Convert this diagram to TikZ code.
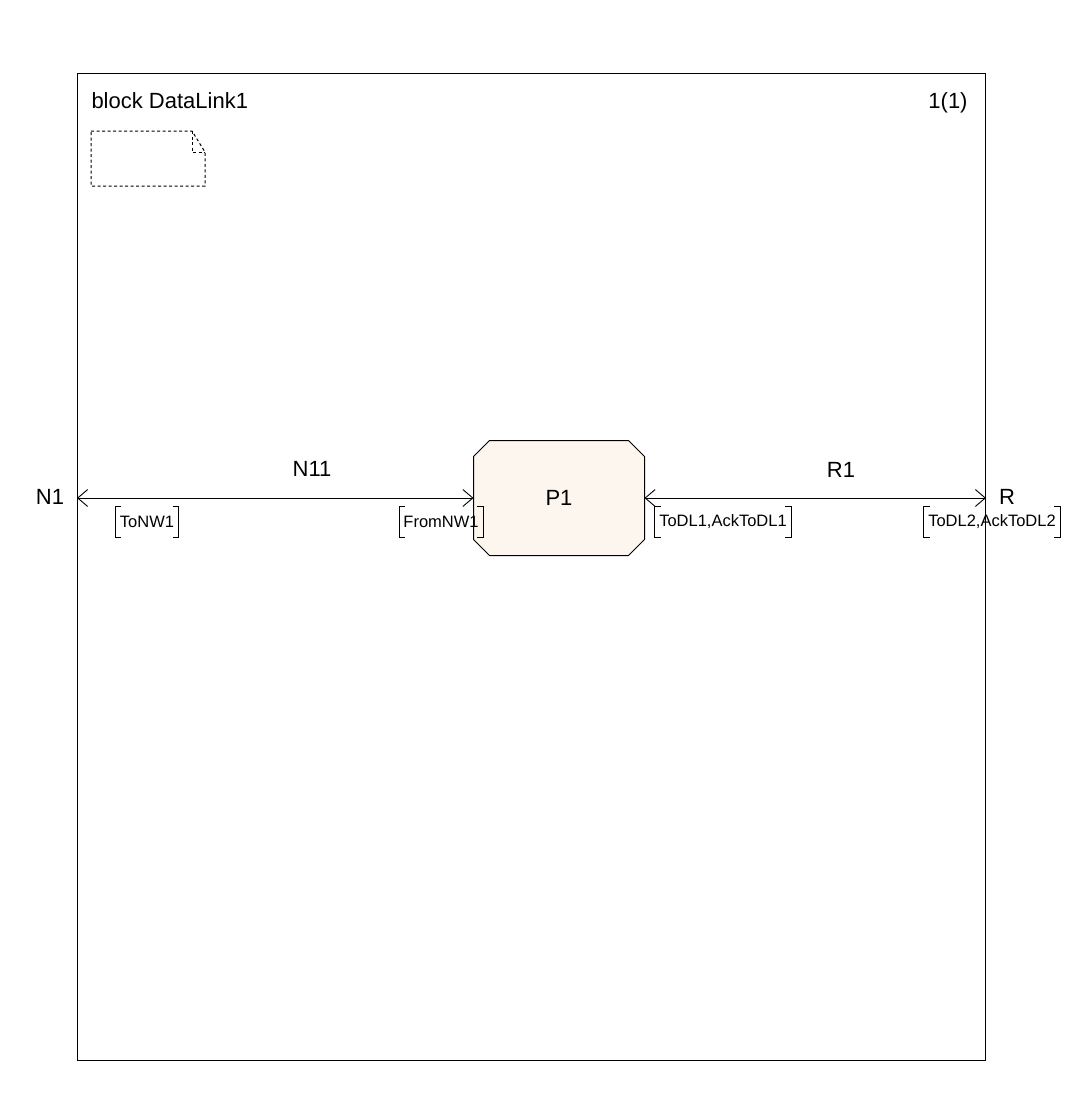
\documentclass[tikz,border=0pt]{standalone}
\usepackage{fontspec}
\setmainfont{Liberation Sans}
\usetikzlibrary{arrows.meta}
\begin{document}
\begin{tikzpicture}[x=1pt,y=-1pt,
  line width=1pt,
  big/.style={font=\fontsize{22}{24}\selectfont, inner sep=0pt},
  sig/.style={font=\fontsize{16.5}{18}\selectfont, inner xsep=4pt, inner ysep=0pt, minimum height=30pt},
  chan/.style={{Straight Barb[length=10pt,width=17pt]}-{Straight Barb[length=10pt,width=17pt]}, line width=0.9pt},
  notestyle/.style={dash pattern=on 3pt off 2.5pt, line width=1pt},
  procfill/.style={fill={rgb,255:red,253;green,246;blue,238}, draw=black}
]
\useasboundingbox (0,0) rectangle (1070,1100);
% frame
\node[draw, minimum width=908pt, minimum height=987pt, anchor=north west, inner sep=0pt] (frame) at (77,73) {};
\node[big, anchor=base west] (title) at (91,108) {block DataLink1};
\node[big, anchor=base] (page) at (948,108) {1(1)};
% note symbol
\draw[notestyle] (91,131) -- (192,131) -- (205,152) -- (205,186) -- (91,186) -- cycle;
\draw[notestyle] (192,131) -- (192,152) -- (205,152);
% process
\node[minimum width=170pt, minimum height=114pt, inner sep=0pt] (p1) at (559,498) {};
\draw[procfill] ([xshift=16pt]p1.north west) -- ([xshift=-16pt]p1.north east)
  -- ([yshift=-16pt]p1.north east) -- ([yshift=16pt]p1.south east)
  -- ([xshift=-16pt]p1.south east) -- ([xshift=16pt]p1.south west)
  -- ([yshift=16pt]p1.south west) -- ([yshift=-16pt]p1.north west) -- cycle;
\node[big] (p1label) at (p1.center) {P1};
% channel end points
\coordinate (n1end) at (frame.west |- p1.west);
\coordinate (rend) at (frame.east |- p1.east);
\draw[chan] (n1end) -- (p1.west);
\draw[chan] (p1.east) -- (rend);
% labels
\node[big] (n1) at (50,497) {N1};
\node[big] (n11) at (312,469) {N11};
\node[big] (r1) at (841,470) {R1};
\node[big] (r) at (1007,497) {R};
% signal lists
\node[sig] (s1) at (147,522) {ToNW1};
\node[sig] (s2) at (441,522) {FromNW1};
\node[sig] (s3) at (723,522) {ToDL1,AckToDL1};
\node[sig] (s4) at (992,522) {ToDL2,AckToDL2};
\foreach \s in {s1,s2,s3,s4}{
  \draw[line width=0.8pt] ([xshift=6pt]\s.north west) -- (\s.north west) -- (\s.south west) -- ([xshift=6pt]\s.south west);
  \draw[line width=0.8pt] ([xshift=-6pt]\s.north east) -- (\s.north east) -- (\s.south east) -- ([xshift=-6pt]\s.south east);
}
\end{tikzpicture}
\end{document}
